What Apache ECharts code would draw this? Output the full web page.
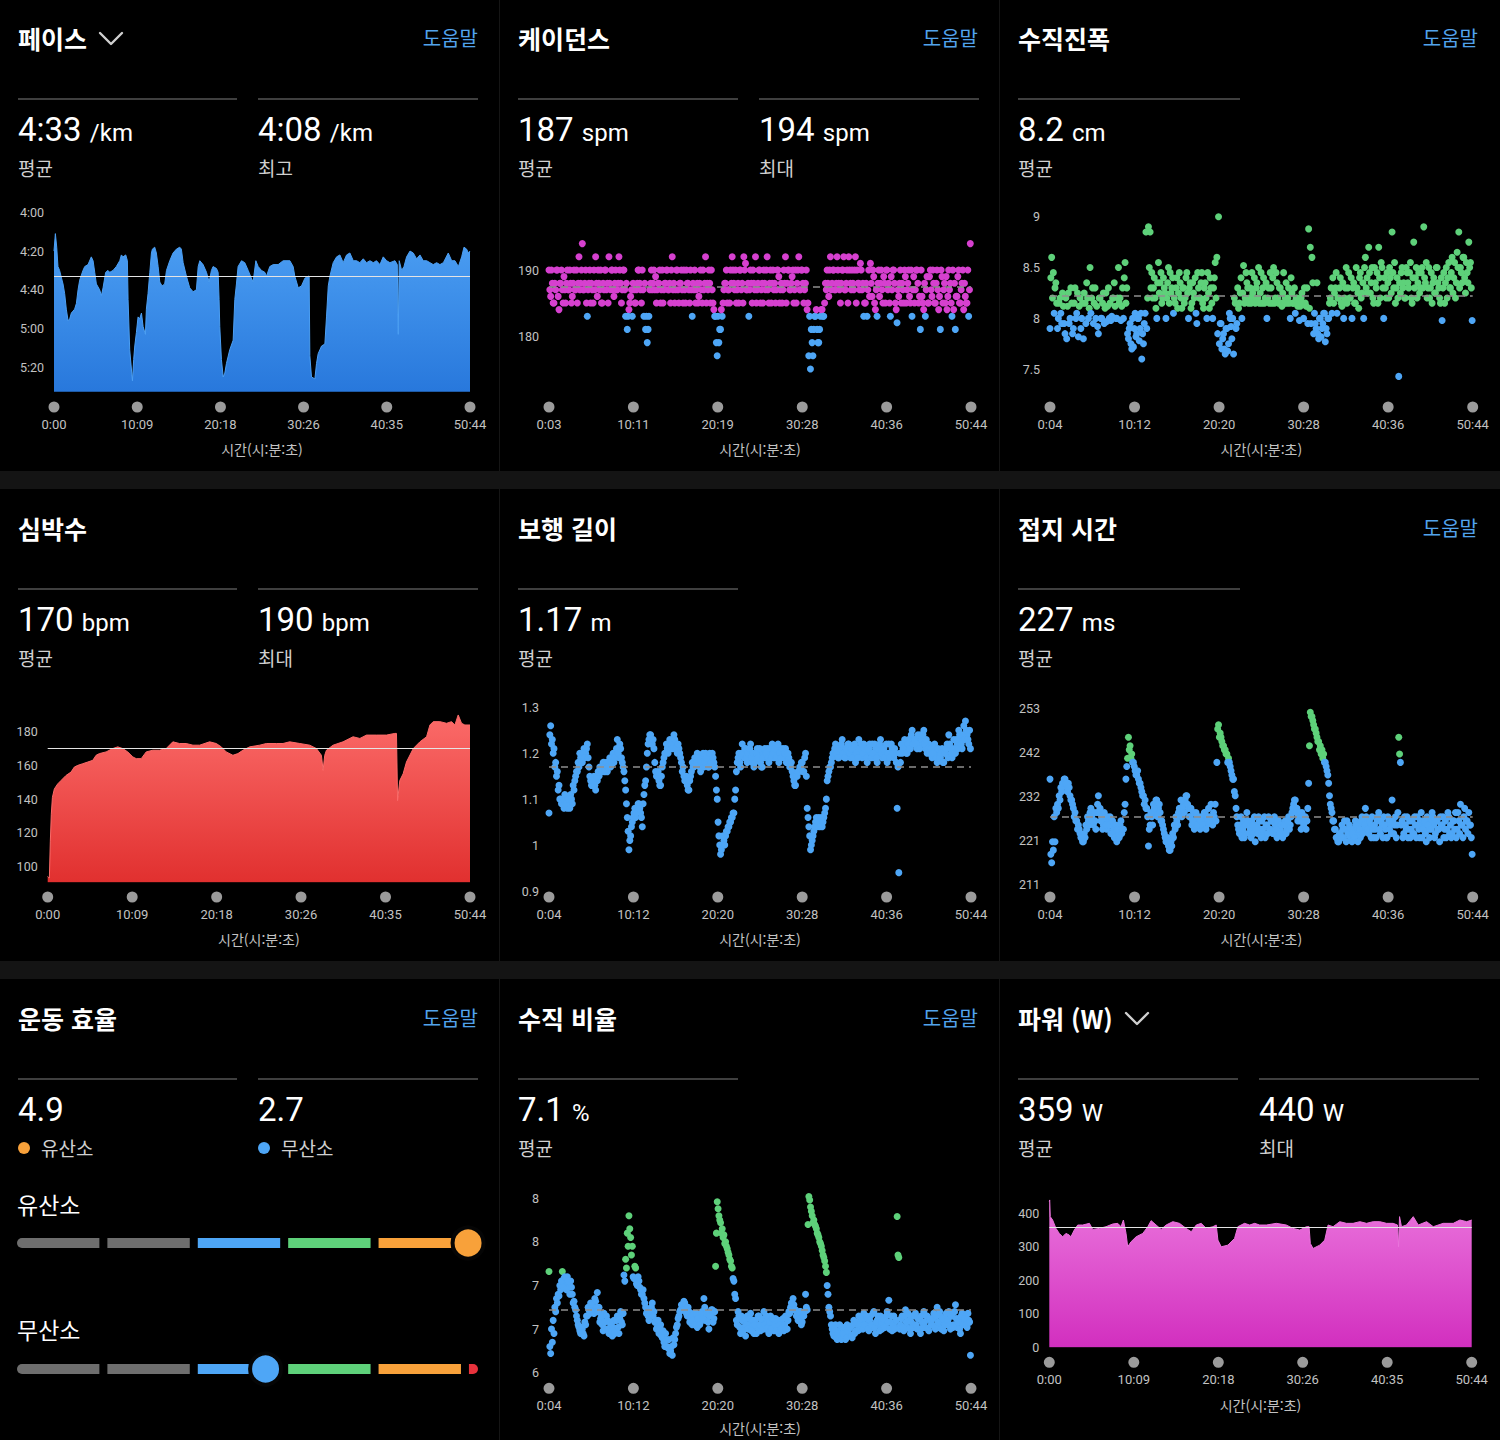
<!DOCTYPE html>
<html lang="ko">
<head>
<meta charset="utf-8">
<title>러닝 다이내믹스</title>
<script src="https://cdn.jsdelivr.net/npm/echarts@6/dist/echarts.min.js"></script>
<style>
  html, body { margin: 0; padding: 0; background: #000; }
  body { width: 1500px; height: 1440px; position: relative; overflow: hidden; font-family: Roboto, "Noto Sans CJK KR", sans-serif; color: #fff; }
  .band { position: absolute; left: 0; width: 1500px; height: 18px; background: #141414; }
  .vline { position: absolute; top: 0; width: 1px; height: 1440px; background: #151515; }
  .panel { position: absolute; width: 500px; }
  .chart { position: absolute; left: 0; top: 0; width: 500px; height: 100%; }
  .title { position: absolute; left: 18px; top: 22px; font-family: "Noto Sans CJK KR"; font-size: 25px; font-weight: 700; line-height: 32px; display: flex; align-items: center; gap: 11px; }
  .title svg { display: block; }
  .help { position: absolute; right: 22px; top: 24px; font-family: "Noto Sans CJK KR"; font-size: 20px; line-height: 28px; color: #52a3ec; }
  .rule { position: absolute; top: 98px; height: 2px; background: #3f3f3f; }
  .stat { position: absolute; top: 110px; font-size: 33px; line-height: 40px; white-space: nowrap; }
  .stat .u { font-size: 24px; }
  .sub { position: absolute; top: 155px; font-family: "Noto Sans CJK KR"; font-size: 19px; line-height: 26px; color: #d0d0d0; display: flex; align-items: center; }
  .dot { display: inline-block; width: 12px; height: 12px; border-radius: 50%; margin-right: 11px; }
  .section { position: absolute; left: 17px; font-family: "Noto Sans CJK KR"; font-size: 23px; line-height: 30px; }
</style>
</head>
<body>
<div class="vline" style="left:499px"></div>
<div class="vline" style="left:999px"></div>
<div class="band" style="top:471px"></div>
<div class="band" style="top:961px"></div>

<!-- row 1 -->
<div class="panel" style="left:0;top:0;height:471px">
  <div class="chart" id="paceChart"></div>
  <div class="title">페이스<svg width="26" height="15" viewBox="0 0 26 15"><polyline points="2,2 13,13 24,2" fill="none" stroke="#cfcfcf" stroke-width="2.4" stroke-linecap="round" stroke-linejoin="round"/></svg></div>
  <div class="help">도움말</div>
  <div class="rule" style="left:18px;width:219px"></div>
  <div class="rule" style="left:258px;width:220px"></div>
  <div class="stat" style="left:18px">4:33 <span class="u">/km</span></div>
  <div class="sub" style="left:18px">평균</div>
  <div class="stat" style="left:258px">4:08 <span class="u">/km</span></div>
  <div class="sub" style="left:258px">최고</div>
</div>
<div class="panel" style="left:500px;top:0;height:471px">
  <div class="chart" id="cadenceChart"></div>
  <div class="title">케이던스</div>
  <div class="help">도움말</div>
  <div class="rule" style="left:18px;width:220px"></div>
  <div class="rule" style="left:259px;width:220px"></div>
  <div class="stat" style="left:18px">187 <span class="u">spm</span></div>
  <div class="sub" style="left:18px">평균</div>
  <div class="stat" style="left:259px">194 <span class="u">spm</span></div>
  <div class="sub" style="left:259px">최대</div>
</div>
<div class="panel" style="left:1000px;top:0;height:471px">
  <div class="chart" id="oscChart"></div>
  <div class="title">수직진폭</div>
  <div class="help">도움말</div>
  <div class="rule" style="left:18px;width:222px"></div>
  <div class="stat" style="left:18px">8.2 <span class="u">cm</span></div>
  <div class="sub" style="left:18px">평균</div>
</div>

<!-- row 2 -->
<div class="panel" style="left:0;top:490px;height:471px">
  <div class="chart" id="hrChart"></div>
  <div class="title">심박수</div>
  <div class="rule" style="left:18px;width:219px"></div>
  <div class="rule" style="left:258px;width:220px"></div>
  <div class="stat" style="left:18px">170 <span class="u">bpm</span></div>
  <div class="sub" style="left:18px">평균</div>
  <div class="stat" style="left:258px">190 <span class="u">bpm</span></div>
  <div class="sub" style="left:258px">최대</div>
</div>
<div class="panel" style="left:500px;top:490px;height:471px">
  <div class="chart" id="strideChart"></div>
  <div class="title">보행 길이</div>
  <div class="rule" style="left:18px;width:220px"></div>
  <div class="stat" style="left:18px">1.17 <span class="u">m</span></div>
  <div class="sub" style="left:18px">평균</div>
</div>
<div class="panel" style="left:1000px;top:490px;height:471px">
  <div class="chart" id="gctChart"></div>
  <div class="title">접지 시간</div>
  <div class="help">도움말</div>
  <div class="rule" style="left:18px;width:222px"></div>
  <div class="stat" style="left:18px">227 <span class="u">ms</span></div>
  <div class="sub" style="left:18px">평균</div>
</div>

<!-- row 3 -->
<div class="panel" style="left:0;top:980px;height:460px">
  <div class="chart" id="effortChart"></div>
  <div class="title">운동 효율</div>
  <div class="help">도움말</div>
  <div class="rule" style="left:18px;width:219px"></div>
  <div class="rule" style="left:258px;width:220px"></div>
  <div class="stat" style="left:18px">4.9</div>
  <div class="sub" style="left:18px"><span class="dot" style="background:#f8a13a"></span>유산소</div>
  <div class="stat" style="left:258px">2.7</div>
  <div class="sub" style="left:258px"><span class="dot" style="background:#4ea6f6"></span>무산소</div>
  <div class="section" style="top:209px">유산소</div>
  <div class="section" style="top:334px">무산소</div>
</div>
<div class="panel" style="left:500px;top:980px;height:460px">
  <div class="chart" id="ratioChart"></div>
  <div class="title">수직 비율</div>
  <div class="help">도움말</div>
  <div class="rule" style="left:18px;width:220px"></div>
  <div class="stat" style="left:18px">7.1 <span class="u">%</span></div>
  <div class="sub" style="left:18px">평균</div>
</div>
<div class="panel" style="left:1000px;top:980px;height:460px">
  <div class="chart" id="powerChart"></div>
  <div class="title">파워 (W)<svg width="26" height="15" viewBox="0 0 26 15"><polyline points="2,2 13,13 24,2" fill="none" stroke="#cfcfcf" stroke-width="2.4" stroke-linecap="round" stroke-linejoin="round"/></svg></div>
  <div class="rule" style="left:18px;width:220px"></div>
  <div class="rule" style="left:259px;width:220px"></div>
  <div class="stat" style="left:18px">359 <span class="u">W</span></div>
  <div class="sub" style="left:18px">평균</div>
  <div class="stat" style="left:259px">440 <span class="u">W</span></div>
  <div class="sub" style="left:259px">최대</div>
</div>

<script>
// ---- time ticks (seconds) ----
const wholeRunTicks = [0, 609, 1218, 1826, 2435, 3044];
const cadenceTicks = [3, 611, 1219, 1828, 2436, 3044];
const dynamicsTicks = [4, 612, 1220, 1828, 2436, 3044];

// ---- y tick values ----
const paceYTicks = [240, 260, 280, 300, 320];
const cadenceYTicks = [180, 190];
const oscYTicks = [7.5, 8, 8.5, 9];
const hrYTicks = [100, 120, 140, 160, 180];
const strideYTicks = [0.9, 1, 1.1, 1.2, 1.3];
const gctYTicks = [210.9, 221.4, 231.9, 242.4, 252.9];
const ratioYTicks = [6.4, 6.9, 7.4, 7.9, 8.4];
const powerYTicks = [0, 100, 200, 300, 400];

// ---- averages ----
const paceMean = 273;
const cadenceMean = 187.5;
const oscMean = 8.22;
const hrMean = 170;
const strideMean = 1.167;
const gctMean = 227;
const ratioMean = 7.12;
const powerMean = 359;

// ---- pace [seconds into run, seconds per km] ----
const paceSeries = [[0,260],[10,251],[20,258],[29,268],[41,270],[55,274],[66,277],[78,282],[90,290],[103,296],[115,295],[127,292],[139,291],[151,290],[164,287],[176,280],[188,275],[212,270],[225,268],[249,267],[273,263],[286,265],[298,271],[310,277],[334,280],[347,283],[359,279],[378,271],[395,270],[408,271],[432,270],[456,268],[481,265],[493,262],[505,263],[525,262],[537,265],[542,285],[554,311],[574,327],[583,316],[591,309],[603,302],[615,294],[627,295],[640,292],[652,299],[669,303],[676,290],[688,282],[701,271],[713,261],[720,259],[737,258],[749,261],[762,268],[774,276],[791,278],[810,277],[823,270],[847,265],[871,261],[896,259],[920,258],[932,259],[945,266],[969,273],[993,279],[1018,281],[1042,280],[1055,268],[1067,265],[1091,267],[1116,271],[1135,276],[1152,270],[1164,268],[1189,269],[1201,271],[1208,285],[1213,299],[1225,316],[1238,325],[1250,323],[1262,318],[1286,311],[1311,306],[1323,285],[1335,277],[1347,268],[1372,265],[1396,266],[1421,270],[1438,273],[1457,276],[1477,265],[1494,268],[1518,270],[1543,271],[1555,273],[1579,268],[1604,267],[1640,267],[1677,265],[1726,265],[1750,268],[1762,273],[1775,276],[1787,279],[1811,278],[1836,274],[1860,273],[1867,273],[1872,314],[1884,325],[1909,326],[1921,318],[1933,313],[1958,309],[1982,308],[1994,294],[2007,278],[2019,273],[2043,266],[2068,263],[2092,262],[2116,266],[2141,262],[2165,261],[2190,265],[2214,265],[2238,266],[2263,264],[2287,266],[2312,265],[2336,266],[2360,265],[2385,267],[2409,263],[2434,265],[2458,266],[2495,265],[2512,267],[2519,303],[2526,265],[2544,270],[2561,268],[2580,263],[2605,260],[2629,261],[2653,264],[2678,262],[2702,265],[2727,265],[2751,266],[2775,267],[2800,266],[2824,267],[2849,266],[2885,261],[2910,265],[2934,265],[2959,268],[2983,263],[3000,258],[3019,259],[3032,261],[3044,260]];

// ---- heart rate [seconds, bpm] ----
const hrSeries = [[0,94],[12,93],[19,115],[26,131],[34,141],[48,146],[72,149],[96,151],[132,154],[168,156],[192,159],[217,160],[253,161],[289,162],[325,163],[349,166],[373,167],[421,168],[469,170],[505,171],[541,170],[577,168],[614,165],[638,164],[674,164],[710,168],[758,169],[806,169],[854,170],[902,174],[950,173],[998,173],[1047,172],[1095,172],[1167,174],[1215,173],[1251,171],[1287,168],[1335,166],[1371,167],[1407,169],[1456,171],[1528,172],[1576,173],[1648,173],[1696,173],[1744,174],[1817,173],[1889,172],[1937,170],[1973,166],[1985,157],[1997,166],[2009,169],[2057,172],[2129,174],[2201,177],[2250,176],[2298,178],[2370,178],[2442,178],[2502,179],[2514,179],[2522,139],[2538,151],[2562,155],[2586,162],[2635,170],[2683,174],[2731,177],[2755,184],[2779,186],[2827,186],[2875,185],[2911,186],[2935,184],[2959,190],[2983,185],[3007,184],[3044,184]];

// ---- power [seconds, watts] ----
const powerSeries = [[0,435],[3,440],[7,390],[24,380],[48,355],[72,340],[96,330],[120,340],[144,335],[156,330],[180,350],[205,365],[241,365],[289,370],[313,352],[361,355],[409,360],[457,368],[493,370],[517,360],[534,380],[553,340],[565,300],[589,315],[626,330],[674,340],[710,360],[734,378],[770,365],[806,352],[842,365],[890,375],[938,370],[986,355],[1023,345],[1059,365],[1095,370],[1131,355],[1179,360],[1203,365],[1215,320],[1239,300],[1287,305],[1335,325],[1359,360],[1407,370],[1444,365],[1480,370],[1516,365],[1564,365],[1636,370],[1708,365],[1756,355],[1805,350],[1853,360],[1872,360],[1881,310],[1901,295],[1949,305],[1985,320],[2009,365],[2045,360],[2093,375],[2141,370],[2189,370],[2238,375],[2286,370],[2334,375],[2382,375],[2430,370],[2478,370],[2509,365],[2517,300],[2524,390],[2538,360],[2574,365],[2623,390],[2659,365],[2719,375],[2767,360],[2839,370],[2911,370],[2959,380],[3008,375],[3044,380]];

// ---- per-sample dot values: "A" every 12 s from the start, "B" 6 s later ----
const sampleStep = 12;
const cadenceA = [
  190,186,188,185,187,190,184,188,187,189, 185,190,187,188,186,190,187,185,192,188,
  194,187,190,183,188,185,187,190,192,186, 188,190,185,187,190,188,192,187,190,186,
  190,187,192,188,187,190,183,181,184,186, 183,187,185,188,190,187,190,183,181,179,
  183,188,187,190,189,187,188,185,190,187, 188,190,187,185,192,188,187,190,185,188,
  187,190,185,188,187,190,183,187,185,188, 186,190,185,187,192,188,190,185,187,184,
  183,177,179,181,183,187,188,185,187,190, 192,188,190,187,185,190,188,192,191,187,
  183,190,185,188,192,187,190,185,188,190, 187,192,185,190,188,187,185,190,189,187,
  185,190,192,188,190,187,189,185,190,188, 192,187,190,185,188,184,177,175,179,181,
  183,181,179,183,184,183,188,190,186,192, 188,190,187,192,188,185,190,192,187,190,
  192,188,190,187,192,190,188,191,187,183, 185,183,190,191,186,189,184,183,190,188,
  187,189,185,190,188,183,187,190,185,182, 186,190,188,185,189,187,190,185,183,189,
  187,190,185,181,186,184,183,189,185,190, 186,188,185,190,184,181,189,187,185,184,
  190,188,183,184,181,186,190,185,188,184, 186,185,183,194
];
const cadenceB = [
  187,190,185,188,190,186,188,190,185,187, 188,187,190,185,188,187,190,188,187,190,
  187,188,185,187,190,188,185,187,188,190, 187,185,188,190,187,185,188,190,187,188,
  187,188,190,185,190,187,188,183,185,187, 188,185,187,190,188,185,187,188,183,181,
  187,190,188,187,185,188,190,187,185,188, 190,187,188,190,187,185,190,187,188,190,
  185,187,190,188,185,187,188,190,187,185, 188,187,190,188,185,187,188,190,185,183,
  179,183,181,184,185,188,190,187,185,188, 190,187,185,188,190,187,185,190,187,188,
  187,188,190,187,185,188,190,187,185,188, 190,187,188,185,190,188,187,190,185,188,
  187,188,185,190,187,188,190,187,185,190, 187,190,188,187,190,185,183,181,177,183,
  184,179,181,184,183,185,187,188,190,187, 190,187,188,190,187,188,190,187,188,185,
  190,187,188,190,185,188,187,190,188,185, 188,187,186,188,190,185,187,188,186,190,
  185,188,190,187,185,189,190,188,184,187, 188,185,187,190,185,188,186,190,187,185,
  190,188,186,190,185,188,187,185,189,187, 190,185,188,187,186,190,185,188,189,186,
  187,185,190,188,186,189,185,187,190,188, 185,190,187,190
];
const oscA = [
  7.9,8.6,8.45,8.3,8.15,8.0,8.2,7.95,8.12,7.85, 7.8,8.25,8.0,8.15,7.9,8.3,8.05,7.82,8.2,8.0,
  7.8,8.15,8.35,8.0,8.5,8.2,7.95,8.3,8.12,7.85, 8.2,8.0,8.25,8.1,7.97,8.3,8.15,8.02,8.2,8.12,
  8.0,8.5,8.2,8.12,8.0,8.55,8.3,7.8,7.95,7.7, 7.72,8.05,7.85,8.0,7.9,7.6,7.75,8.05,7.9,8.9,
  8.85,8.45,8.3,8.2,8.0,8.55,8.35,8.15,8.4,8.25, 8.2,8.5,8.45,8.3,8.05,8.15,8.4,8.25,8.35,8.1,
  8.3,8.2,8.45,8.0,8.35,8.15,8.25,8.4,7.95,8.3, 8.2,8.45,8.1,8.35,8.0,8.25,8.4,8.15,8.3,8.55,
  8.6,9.0,7.95,7.7,7.85,7.65,7.9,7.75,8.0,7.8, 7.65,8.15,7.95,8.1,8.25,8.0,8.52,8.2,8.35,8.15,
  8.3,8.45,8.2,8.15,8.35,8.5,8.25,8.15,8.4,8.2, 8.0,8.3,8.45,8.15,8.5,8.2,8.35,8.15,8.3,8.12,
  8.45,8.2,8.15,8.3,8.0,8.25,8.15,8.05,8.2,8.15, 8.12,8.25,8.0,8.15,8.3,8.88,8.7,8.6,7.85,7.95,
  8.35,7.8,8.0,7.9,8.05,7.77,7.85,8.0,8.2,8.05, 8.15,8.3,8.05,8.2,8.4,8.12,8.0,8.3,8.15,8.45,
  8.2,8.0,8.35,8.15,8.3,8.1,8.45,8.25,8.0,8.6, 8.4,8.7,8.25,8.5,8.15,8.35,8.45,8.7,8.2,8.5,
  8.0,8.3,8.45,8.2,8.4,8.85,8.3,8.15,8.4,7.43, 8.25,8.5,8.35,8.2,8.45,8.3,8.55,8.15,8.75,8.4,
  8.2,8.45,8.3,8.5,8.9,8.35,8.2,8.5,8.3,8.15, 8.4,8.25,8.5,8.3,8.15,7.98,8.45,8.35,8.2,8.55,
  8.3,8.6,8.4,8.2,8.65,8.85,8.5,8.35,8.6,8.25, 8.45,8.75,8.55,7.98
];
const oscB = [
  8.4,8.2,8.05,8.35,7.9,8.15,8.05,8.25,7.95,8.2, 8.12,7.95,8.3,7.85,8.15,8.0,8.25,8.12,7.9,8.15,
  8.25,7.95,8.2,8.1,8.05,8.3,8.15,8.0,7.92,8.2, 8.0,8.15,7.95,8.25,8.12,8.0,7.98,8.2,8.35,8.0,
  8.2,8.15,7.98,8.3,8.4,8.15,7.85,7.9,7.75,8.0, 7.9,7.82,8.0,7.78,8.05,7.85,7.95,8.85,8.2,8.5,
  8.3,8.2,8.4,8.1,8.35,8.25,8.45,8.2,8.3,8.0, 8.35,8.15,8.25,8.4,8.2,8.3,8.1,8.45,8.2,8.3,
  8.15,8.4,8.25,8.3,8.1,8.35,8.2,8.05,8.45,8.2, 8.35,8.15,8.3,8.2,8.45,8.1,8.3,8.0,8.4,8.2,
  7.85,7.75,7.95,7.8,7.7,7.9,7.68,8.05,7.92,8.0, 8.2,7.9,8.3,8.15,8.4,8.25,8.15,8.45,8.3,8.2,
  8.15,8.25,8.4,8.3,8.2,8.15,8.45,8.3,8.15,8.35, 8.2,8.15,8.3,8.4,8.15,8.45,8.2,8.3,8.15,8.25,
  8.15,8.35,8.2,8.15,8.4,8.15,8.3,8.2,8.12,7.98, 8.2,8.15,8.3,8.12,7.95,8.1,7.95,8.35,8.05,7.9,
  7.85,8.0,7.82,7.95,8.05,7.9,8.0,8.15,8.3,8.4, 8.25,8.45,8.2,8.3,8.15,8.35,8.2,8.5,8.3,8.2,
  8.4,8.3,8.15,8.5,8.25,8.4,8.2,8.35,8.5,8.3, 8.25,8.45,8.35,8.2,8.5,8.3,8.15,8.4,8.55,8.3,
  8.4,8.2,8.35,8.5,8.25,8.45,8.55,8.3,8.2,8.35, 8.45,8.3,8.2,8.5,8.35,8.45,8.2,8.4,8.3,8.5,
  8.35,8.25,8.45,8.3,8.4,8.55,8.3,8.2,8.45,8.35, 8.25,8.5,8.35,8.2,8.4,8.3,8.15,8.5,8.4,8.3,
  8.45,8.25,8.55,8.35,8.5,8.3,8.45,8.6,8.4,8.55, 8.35,8.5,8.3,8.45
];
const strideA = [
  1.07,1.26,1.23,1.21,1.18,1.16,1.13,1.10,1.09,1.08, 1.10,1.08,1.09,1.11,1.09,1.12,1.15,1.16,1.17,1.19,
  1.18,1.21,1.2,1.22,1.17,1.14,1.13,1.15,1.12,1.14, 1.15,1.17,1.16,1.18,1.17,1.16,1.18,1.17,1.19,1.18,
  1.2,1.23,1.19,1.21,1.18,1.16,1.12,1.06,0.99,1.02, 1.05,1.07,1.06,1.08,1.09,1.07,1.04,1.11,1.14,1.2,
  1.23,1.24,1.22,1.21,1.16,1.15,1.14,1.13,1.17,1.19, 1.2,1.21,1.22,1.21,1.23,1.24,1.22,1.2,1.21,1.19,
  1.16,1.15,1.14,1.13,1.12,1.15,1.18,1.17,1.19,1.2, 1.18,1.16,1.19,1.17,1.2,1.18,1.17,1.19,1.2,1.18,
  1.15,1.1,1.02,0.98,1.0,1.01,1.02,1.03,1.04,1.05, 1.06,1.07,1.12,1.18,1.2,1.17,1.22,1.19,1.21,1.18,
  1.2,1.22,1.18,1.17,1.19,1.21,1.2,1.18,1.17,1.2, 1.19,1.21,1.18,1.2,1.22,1.19,1.21,1.2,1.18,1.21,
  1.2,1.19,1.21,1.18,1.19,1.17,1.16,1.14,1.13,1.15, 1.16,1.17,1.18,1.16,1.2,1.08,1.04,0.99,1.01,1.03,
  1.05,1.04,1.06,1.05,1.04,1.06,1.08,1.14,1.16,1.17, 1.19,1.2,1.22,1.21,1.19,1.2,1.23,1.21,1.19,1.2,
  1.22,1.19,1.21,1.2,1.18,1.21,1.23,1.2,1.19,1.22, 1.2,1.18,1.21,1.2,1.22,1.19,1.21,1.18,1.2,1.23,
  1.19,1.21,1.2,1.18,1.22,1.2,1.21,1.19,1.2,1.08, 0.94,1.18,1.2,1.21,1.22,1.2,1.23,1.21,1.25,1.22,
  1.23,1.21,1.22,1.24,1.22,1.25,1.21,1.2,1.22,1.2, 1.19,1.21,1.2,1.18,1.2,1.19,1.21,1.18,1.2,1.22,
  1.24,1.21,1.19,1.23,1.2,1.22,1.25,1.23,1.21,1.26, 1.27,1.24,1.22,1.21
];
const strideB = [
  1.24,1.22,1.2,1.17,1.15,1.12,1.1,1.09,1.1,1.11, 1.09,1.1,1.08,1.1,1.13,1.14,1.16,1.18,1.2,1.18,
  1.2,1.19,1.21,1.19,1.15,1.13,1.14,1.13,1.15,1.16, 1.17,1.16,1.18,1.16,1.18,1.17,1.19,1.18,1.2,1.19,
  1.21,1.2,1.22,1.19,1.17,1.14,1.09,1.03,1.01,1.04, 1.06,1.08,1.07,1.09,1.08,1.06,1.09,1.13,1.17,1.22,
  1.24,1.22,1.23,1.18,1.15,1.16,1.13,1.15,1.18,1.2, 1.22,1.2,1.23,1.22,1.21,1.23,1.21,1.22,1.2,1.18,
  1.17,1.14,1.15,1.12,1.14,1.16,1.17,1.19,1.18,1.19, 1.17,1.18,1.2,1.18,1.19,1.17,1.2,1.18,1.19,1.17,
  1.12,1.05,1.0,0.99,1.02,1.0,1.03,1.04,1.05,1.06, 1.07,1.1,1.16,1.19,1.18,1.2,1.2,1.21,1.19,1.2,
  1.21,1.19,1.2,1.18,1.2,1.19,1.21,1.17,1.19,1.21, 1.2,1.19,1.21,1.19,1.2,1.21,1.19,1.22,1.2,1.19,
  1.21,1.2,1.18,1.2,1.17,1.18,1.15,1.13,1.15,1.16, 1.17,1.18,1.16,1.19,1.15,1.06,1.02,1.0,1.02,1.04,
  1.06,1.05,1.04,1.06,1.05,1.07,1.1,1.15,1.17,1.18, 1.2,1.21,1.2,1.19,1.21,1.22,1.2,1.19,1.21,1.22,
  1.2,1.21,1.19,1.22,1.2,1.19,1.21,1.22,1.2,1.21, 1.19,1.21,1.22,1.19,1.2,1.22,1.19,1.21,1.22,1.2,
  1.21,1.19,1.22,1.2,1.19,1.22,1.2,1.21,1.18,1.17, 1.2,1.22,1.21,1.23,1.2,1.22,1.21,1.24,1.22,1.23,
  1.22,1.24,1.21,1.23,1.24,1.22,1.23,1.21,1.2,1.21, 1.2,1.22,1.19,1.21,1.19,1.2,1.18,1.2,1.21,1.19,
  1.22,1.2,1.21,1.2,1.23,1.21,1.24,1.22,1.24,1.23, 1.25,1.23,1.25,1.22
];
const gctA = [
  236,216,219,221,228,229,231,233,235,236, 234,235,232,231,229,228,226,225,223,222,
  221,222,224,226,228,227,225,226,228,232, 229,227,225,226,224,226,227,225,224,223,
  221,223,225,223,224,230,239,246,244,242, 240,238,237,236,235,233,232,231,229,220,
  225,227,230,228,231,229,228,226,224,222, 221,220,219,220,222,224,226,228,229,227,
  230,231,232,229,227,225,228,226,227,225, 224,227,226,228,225,229,227,226,228,230,
  240,249,247,245,244,243,242,241,239,237, 236,232,227,224,225,222,226,223,228,225,
  224,226,223,221,225,227,224,226,223,222, 225,227,224,226,223,225,222,226,224,225,
  223,226,224,227,225,228,230,231,229,227, 226,228,225,227,226,235,252,251,249,248,
  246,245,244,243,242,240,238,235,230,228, 226,224,222,221,223,225,222,224,226,223,
  222,221,224,226,223,225,222,227,224,229, 226,223,225,227,222,224,226,228,223,225,
  227,224,222,226,225,231,223,227,225,246, 240,226,223,225,227,224,222,226,223,225,
  227,224,226,222,225,223,227,224,226,228, 225,223,226,224,227,225,222,226,224,227,
  225,223,226,228,224,226,230,225,227,224, 226,228,225,218
];
const gctB = [
  218,221,227,229,230,232,234,235,236,235, 233,234,231,230,227,226,224,224,222,221,
  223,225,227,225,229,226,228,224,230,228, 226,224,228,225,227,225,223,226,222,225,
  224,222,226,224,228,236,241,243,241,240, 239,237,238,235,234,232,230,229,227,224,
  228,225,229,231,227,230,226,225,223,221, 222,219,221,223,225,227,225,229,231,229,
  228,232,230,227,229,226,224,228,225,227, 226,225,228,224,227,226,230,225,227,226,
  248,246,246,244,243,242,240,240,238,236, 233,229,225,223,227,224,222,225,226,223,
  222,225,227,224,223,226,222,224,227,225, 223,224,226,223,227,224,226,223,225,222,
  225,223,226,224,227,229,231,228,226,228, 224,226,227,224,229,244,251,250,248,247,
  245,243,242,241,240,239,237,232,229,226, 224,222,221,223,222,224,226,221,223,225,
  224,223,222,225,221,224,226,223,225,227, 224,226,222,224,225,222,227,224,226,222,
  225,222,227,224,223,226,225,222,228,242, 225,222,227,224,222,226,224,223,227,222,
  225,222,228,224,226,221,225,222,224,227, 222,226,224,221,225,227,224,222,228,223,
  222,226,224,222,228,223,225,222,229,226, 223,225,222,226
];
const ratioA = [
  7.56,6.62,6.75,6.85,7.1,7.2,7.28,7.35,7.56,7.48, 7.42,7.5,7.38,7.45,7.3,7.22,7.12,7.0,6.92,6.85,
  6.9,6.82,6.95,7.05,7.12,7.2,7.15,7.08,7.22,7.32, 7.15,7.02,6.95,7.08,6.9,7.0,6.85,6.95,6.82,7.0,
  6.9,7.05,6.85,7.1,6.95,7.52,7.7,8.0,8.2,7.95, 7.85,7.48,7.6,7.4,7.45,7.35,7.3,7.25,7.15,7.1,
  7.0,7.12,7.2,7.1,7.0,6.92,6.85,6.95,6.8,6.75, 6.85,6.7,6.78,6.65,6.6,6.72,6.85,6.95,7.05,7.12,
  7.18,7.22,7.15,7.05,7.1,7.02,6.95,7.08,7.0,6.92, 7.05,6.98,7.1,7.25,7.0,7.08,6.9,7.05,7.12,7.02,
  7.62,8.36,8.2,8.12,8.05,7.98,7.9,7.82,7.75,7.68, 7.6,7.45,7.25,6.95,7.05,6.85,7.0,6.92,6.82,7.05,
  6.95,7.08,6.9,6.85,7.0,6.92,7.05,6.88,6.98,7.1, 6.9,7.0,6.85,7.05,6.95,6.88,7.02,6.92,6.85,7.0,
  6.95,6.88,7.05,6.9,7.1,7.15,7.2,7.18,7.12,7.08, 7.02,7.1,6.98,7.05,7.3,7.12,8.42,8.3,8.2,8.15,
  8.08,8.0,7.95,7.88,7.8,7.72,7.62,7.4,7.15,7.05, 6.9,6.82,6.95,6.78,6.88,6.8,6.92,6.85,6.78,6.95,
  6.85,6.92,6.8,7.0,6.88,6.95,7.05,6.9,6.98,7.08, 6.95,7.02,6.88,7.05,6.92,7.1,6.85,7.0,6.95,7.05,
  6.9,7.02,6.95,7.1,7.23,6.98,6.88,7.05,6.92,8.19, 7.72,6.95,7.05,6.88,7.12,6.92,7.0,6.85,7.05,6.95,
  7.08,6.9,7.02,6.85,6.98,7.1,6.92,7.05,6.88,7.0, 6.95,7.08,6.9,7.15,6.92,7.05,6.98,6.88,7.02,6.95,
  7.1,6.9,7.05,6.95,7.18,6.92,7.02,6.85,7.08,6.98, 7.05,6.92,7.0,6.6
];
const ratioB = [
  6.7,6.9,7.0,7.15,7.25,7.3,7.4,7.45,7.38,7.5, 7.35,7.45,7.3,7.38,7.2,7.15,7.05,6.95,6.88,6.92,
  6.85,6.98,7.05,7.15,7.08,7.18,7.1,7.25,7.15,7.1, 6.98,7.05,6.88,6.98,7.05,6.9,6.98,6.88,6.92,6.85,
  7.0,6.92,7.02,6.98,7.08,7.45,7.6,7.85,8.05,7.75, 7.5,7.62,7.42,7.5,7.38,7.3,7.35,7.2,7.08,7.05,
  7.08,7.15,7.05,6.98,6.9,7.0,6.92,6.82,6.88,6.7, 6.78,6.68,6.62,6.7,6.8,6.78,6.92,7.02,7.1,7.18,
  7.12,7.2,7.08,7.15,6.98,7.05,7.0,6.95,7.08,7.02, 6.95,7.08,7.02,7.15,7.08,6.98,7.05,7.12,6.98,7.1,
  8.0,8.28,8.15,8.0,7.95,7.88,7.85,7.78,7.7,7.62, 7.48,7.3,7.0,7.1,6.92,7.05,6.88,7.0,6.95,6.9,
  7.02,6.88,7.0,6.95,6.85,7.05,6.95,7.02,6.9,6.95, 7.05,6.92,6.98,6.9,7.02,6.95,6.88,7.0,6.95,6.9,
  7.02,6.95,6.9,7.0,7.08,7.2,7.25,7.12,7.05,7.0, 7.1,6.95,7.05,7.1,7.15,8.1,8.38,8.25,8.12,8.1,
  8.05,7.98,7.9,7.85,7.75,7.68,7.55,7.3,7.1,6.95, 6.85,6.9,6.8,6.85,6.95,6.78,6.85,6.92,6.8,6.88,
  6.92,6.82,6.95,6.85,6.98,6.88,6.95,7.02,6.9,6.95, 7.05,6.9,7.0,6.95,7.08,6.92,6.98,7.05,6.88,6.98,
  7.02,6.92,7.05,6.98,6.9,7.05,6.95,6.9,7.0,7.75, 6.9,7.02,6.92,7.05,6.98,7.08,6.9,6.98,6.92,7.05,
  6.95,7.02,6.9,7.05,6.92,6.98,7.05,6.9,7.02,6.95, 7.02,6.92,7.05,6.98,7.1,6.9,7.02,6.95,7.08,7.0,
  6.95,7.05,6.92,7.1,7.02,6.98,6.9,7.05,6.95,7.02, 6.95,7.08,6.98,6.9
];

// ---- running efficiency gauges ----
const effortZoneColors = ['#6e6e6e', '#6e6e6e', '#4ea6f6', '#5ed17a', '#f8a13a', '#e8323c'];
const aerobicZones = [[0, 1, 0], [1, 2, 1], [2, 3, 2], [3, 4, 3], [4, 5, 4]];
const anaerobicZones = [[0, 1, 0], [1, 2, 1], [2, 3, 2], [3, 4, 3], [4, 5, 4], [5, 5.1, 5]];
const effortMarkers = [4.99, 2.75];

const BLUE = '#4ea6f6';
const GREEN = '#5ed17a';
const MAGENTA = '#d640cf';
const axisGray = '#c2c2c2';

function clock(sec) {
  const m = Math.floor(sec / 60);
  const s = Math.round(sec - m * 60);
  return m + ':' + (s < 10 ? '0' : '') + s;
}

function timeAxis(ticks, margin, nameGap) {
  return {
    type: 'value',
    min: ticks[0],
    max: ticks[ticks.length - 1],
    axisLine: { show: false },
    axisTick: { show: false },
    splitLine: { show: false },
    axisLabel: {
      customValues: ticks,
      margin: margin,
      formatter: v => '{d|}\n{t|' + clock(v) + '}',
      rich: {
        d: { width: 11, height: 11, borderRadius: 6, backgroundColor: '#9b9b9b' },
        t: { color: axisGray, fontSize: 13, lineHeight: 23, fontFamily: 'Roboto' }
      }
    },
    name: '시간(시:분:초)',
    nameLocation: 'middle',
    nameGap: nameGap,
    nameMoveOverlap: false,
    nameTextStyle: { color: axisGray, fontSize: 14, fontFamily: 'Noto Sans CJK KR' }
  };
}

function valueAxis(min, max, ticks, formatter, inverse) {
  return {
    type: 'value',
    min: min,
    max: max,
    inverse: !!inverse,
    axisLine: { show: false },
    axisTick: { show: false },
    splitLine: { show: false },
    axisLabel: { customValues: ticks, formatter: formatter, color: axisGray, fontSize: 12.5, margin: 10, fontFamily: 'Roboto' }
  };
}

function meanLine(value, solid) {
  return {
    silent: true,
    symbol: 'none',
    z: 5,
    label: { show: false },
    lineStyle: solid
      ? { color: '#e4e4e4', width: 1, type: 'solid' }
      : { color: '#8e8e8e', width: 1.5, type: [7, 5] },
    data: [{ yAxis: value }]
  };
}

function areaChart(id, o) {
  const chart = echarts.init(document.getElementById(id), null, { renderer: 'svg' });
  chart.setOption({
    animation: false,
    grid: Object.assign({ outerBoundsMode: 'none' }, o.grid),
    xAxis: timeAxis(o.ticks, o.labelMargin, o.nameGap),
    yAxis: valueAxis(o.min, o.max, o.yTicks, o.yFormat, o.inverse),
    series: [{
      type: 'line',
      data: o.data,
      symbol: 'none',
      showSymbol: false,
      lineStyle: { width: 1, color: o.colors[0] },
      areaStyle: {
        origin: o.inverse ? 'end' : 'start',
        opacity: 1,
        color: new echarts.graphic.LinearGradient(0, 0, 0, 1, [
          { offset: 0, color: o.colors[0] },
          { offset: 1, color: o.colors[1] }
        ])
      },
      markLine: meanLine(o.mean, true)
    }]
  });
}

function dotChart(id, o) {
  const chart = echarts.init(document.getElementById(id), null, { renderer: 'svg' });
  const data = o.valuesA.map((v, i) => [o.start + i * sampleStep, v])
    .concat(o.valuesB.map((v, i) => [o.start + sampleStep / 2 + i * sampleStep, v]));
  chart.setOption({
    animation: false,
    grid: Object.assign({ outerBoundsMode: 'none' }, o.grid),
    xAxis: timeAxis(o.ticks, o.labelMargin, o.nameGap),
    yAxis: valueAxis(o.min, o.max, o.yTicks, o.yFormat, false),
    series: [{
      type: 'scatter',
      data: data,
      symbolSize: 7,
      itemStyle: { opacity: 1, color: p => (p.value[1] >= o.split ? o.high : o.low) },
      markLine: meanLine(o.mean, false)
    }]
  });
}

areaChart('paceChart', {
  grid: { left: 54, top: 212.3, width: 416, height: 179.4 },
  ticks: wholeRunTicks, labelMargin: 9.8, nameGap: 50,
  min: 240, max: 332.6, inverse: true, yTicks: paceYTicks, yFormat: clock,
  data: paceSeries, mean: paceMean, colors: ['#4c9ff3', '#2878dc']
});

dotChart('cadenceChart', {
  grid: { left: 49, top: 233.7, width: 422, height: 148.5 },
  ticks: cadenceTicks, labelMargin: 19.3, nameGap: 60,
  min: 173, max: 195.5, yTicks: cadenceYTicks, yFormat: v => String(v),
  start: 3, valuesA: cadenceA, valuesB: cadenceB, mean: cadenceMean, split: 184, high: MAGENTA, low: BLUE
});

dotChart('oscChart', {
  grid: { left: 50, top: 211.6, width: 422.7, height: 178 },
  ticks: dynamicsTicks, labelMargin: 11.9, nameGap: 52.4,
  min: 7.3, max: 9.05, yTicks: oscYTicks, yFormat: v => String(v),
  start: 4, valuesA: oscA, valuesB: oscB, mean: oscMean, split: 8.1, high: GREEN, low: BLUE
});

areaChart('hrChart', {
  grid: { left: 47.7, top: 224.9, width: 422.3, height: 167.4 },
  ticks: wholeRunTicks, labelMargin: 9.2, nameGap: 49.7,
  min: 90.5, max: 190, yTicks: hrYTicks, yFormat: v => String(v),
  data: hrSeries, mean: hrMean, colors: ['#fb6b69', '#e1302f']
});

dotChart('strideChart', {
  grid: { left: 49, top: 217.3, width: 422, height: 183.7 },
  ticks: dynamicsTicks, labelMargin: 0.5, nameGap: 41,
  min: 0.9, max: 1.3, yTicks: strideYTicks, yFormat: v => String(v),
  start: 4, valuesA: strideA, valuesB: strideB, mean: strideMean, split: 99, high: GREEN, low: BLUE
});

dotChart('gctChart', {
  grid: { left: 50, top: 213.9, width: 422.7, height: 180.1 },
  ticks: dynamicsTicks, labelMargin: 7.5, nameGap: 48,
  min: 210.9, max: 254, yTicks: gctYTicks, yFormat: v => String(Math.round(v)),
  start: 4, valuesA: gctA, valuesB: gctB, mean: gctMean, split: 241, high: GREEN, low: BLUE
});

dotChart('ratioChart', {
  grid: { left: 49, top: 213.9, width: 422, height: 178.8 },
  ticks: dynamicsTicks, labelMargin: 10.1, nameGap: 48.3,
  min: 6.4, max: 8.45, yTicks: ratioYTicks, yFormat: v => String(Math.round(v)),
  start: 4, valuesA: ratioA, valuesB: ratioB, mean: ratioMean, split: 7.55, high: GREEN, low: BLUE
});

areaChart('powerChart', {
  grid: { left: 49.3, top: 219.9, width: 422.4, height: 147.4 },
  ticks: wholeRunTicks, labelMargin: 9.5, nameGap: 50.7,
  min: 0, max: 440, yTicks: powerYTicks, yFormat: v => String(v),
  data: powerSeries, mean: powerMean, colors: ['#ea74dc', '#d22fbf']
});

// ---- efficiency gauges ----
function zoneRenderer(count) {
  return function (params, api) {
    const a = api.coord([api.value(0), 0]);
    const b = api.coord([api.value(1), 0]);
    const idx = params.dataIndex;
    const isLast = idx === count - 1;
    const w = b[0] - a[0] - (isLast ? 0 : 8);
    let r = 0;
    if (idx === 0) r = [5, 0, 0, 5];
    else if (api.value(2) === 5) r = [0, 5, 5, 0];
    return {
      type: 'rect',
      shape: { x: a[0], y: a[1] - 5, width: w, height: 10, r: r },
      style: { fill: effortZoneColors[api.value(2)] }
    };
  };
}

const effortChart = echarts.init(document.getElementById('effortChart'), null, { renderer: 'svg' });
effortChart.setOption({
  animation: false,
  grid: [
    { left: 17, width: 461, top: 243, height: 40, outerBoundsMode: 'none' },
    { left: 17, width: 461, top: 369, height: 40, outerBoundsMode: 'none' }
  ],
  xAxis: [
    { type: 'value', gridIndex: 0, min: 0, max: 5.1, show: false },
    { type: 'value', gridIndex: 1, min: 0, max: 5.1, show: false }
  ],
  yAxis: [
    { type: 'value', gridIndex: 0, min: -1, max: 1, show: false },
    { type: 'value', gridIndex: 1, min: -1, max: 1, show: false }
  ],
  series: [
    { type: 'custom', xAxisIndex: 0, yAxisIndex: 0, data: aerobicZones, renderItem: zoneRenderer(aerobicZones.length) },
    { type: 'custom', xAxisIndex: 1, yAxisIndex: 1, data: anaerobicZones, renderItem: zoneRenderer(anaerobicZones.length) },
    {
      type: 'scatter', xAxisIndex: 0, yAxisIndex: 0, z: 4, data: [[effortMarkers[0], 0]], symbolSize: 31,
      itemStyle: { color: '#f8a13a', borderColor: '#050505', borderWidth: 4, opacity: 1 }
    },
    {
      type: 'scatter', xAxisIndex: 1, yAxisIndex: 1, z: 4, data: [[effortMarkers[1], 0]], symbolSize: 31,
      itemStyle: { color: '#4ea6f6', borderColor: '#050505', borderWidth: 4, opacity: 1 }
    }
  ]
});
</script>
</body>
</html>
